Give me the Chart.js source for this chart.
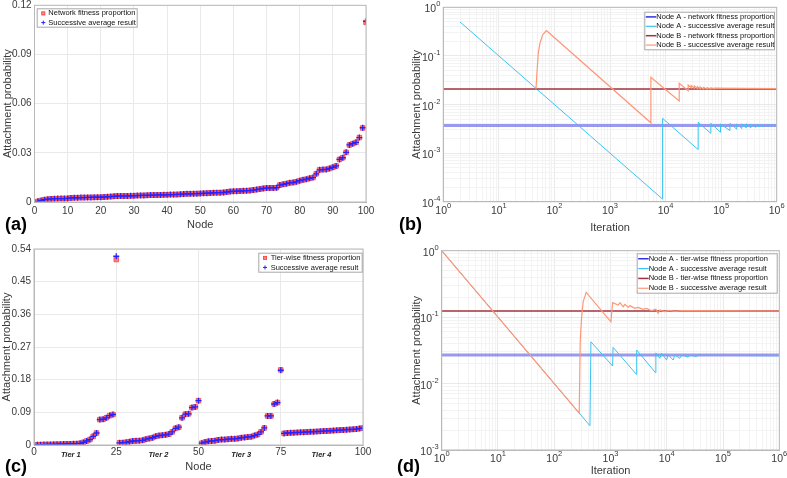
<!DOCTYPE html>
<html>
<head>
<meta charset="utf-8">
<script src="https://cdn.jsdelivr.net/npm/chart.js@4.4.1/dist/chart.umd.min.js"></script>
<style>
  html, body { margin: 0; padding: 0; background: #fff; }
  #wrap { position: relative; width: 787px; height: 478px; overflow: hidden;
          font-family: "Liberation Sans", Arial, Helvetica, sans-serif; }
  .panel { position: absolute; }
  .tag { position: absolute; font-weight: bold; font-size: 18px; line-height: 18px; color: #000; }
</style>
</head>
<body>
<div id="wrap">
  <div class="panel" style="left:0;top:0"><canvas id="cA" width="390" height="240"></canvas></div>
  <div class="panel" style="left:390px;top:0"><canvas id="cB" width="397" height="240"></canvas></div>
  <div class="panel" style="left:0;top:240px"><canvas id="cC" width="390" height="238"></canvas></div>
  <div class="panel" style="left:390px;top:240px"><canvas id="cD" width="397" height="238"></canvas></div>
  <div class="tag" style="left:5px;top:215px">(a)</div>
  <div class="tag" style="left:399px;top:215px">(b)</div>
  <div class="tag" style="left:5px;top:457px">(c)</div>
  <div class="tag" style="left:397px;top:457px">(d)</div>
</div>
<script>
// ---- datos ----

// (a) probabilidad por nodo, ordenada
const NODES = Array.from({ length: 100 }, (_, i) => i + 1);
const fitA = [
  0.0004, 0.0009, 0.0014, 0.0017, 0.0019, 0.0020, 0.0020, 0.0021, 0.0021, 0.0022,
  0.0025, 0.0026, 0.0026, 0.0027, 0.0027, 0.0028, 0.0028, 0.0028, 0.0029, 0.0029,
  0.0031, 0.0032, 0.0033, 0.0035, 0.0036, 0.0036, 0.0036, 0.0037, 0.0037, 0.0038,
  0.0039, 0.0040, 0.0040, 0.0041, 0.0042, 0.0042, 0.0043, 0.0043, 0.0044, 0.0044,
  0.0045, 0.0045, 0.0046, 0.0047, 0.0049, 0.0050, 0.0050, 0.0051, 0.0051, 0.0052,
  0.0053, 0.0054, 0.0055, 0.0056, 0.0057, 0.0057, 0.0058, 0.0061, 0.0064, 0.0065,
  0.0066, 0.0067, 0.0068, 0.0069, 0.0070, 0.0073, 0.0076, 0.0079, 0.0083, 0.0085,
  0.0086, 0.0086, 0.0087, 0.0103, 0.0108, 0.0112, 0.0117, 0.0119, 0.0123, 0.0130,
  0.0135, 0.0139, 0.0145, 0.0149, 0.0172, 0.0196, 0.0198, 0.0199, 0.0205, 0.0212,
  0.0220, 0.0260, 0.0270, 0.0303, 0.0348, 0.0356, 0.0364, 0.0393, 0.0452, 0.1096
];
const avgA = [
  0.0004, 0.0009, 0.0014, 0.0017, 0.0019, 0.0020, 0.0021, 0.0021, 0.0021, 0.0022,
  0.0025, 0.0026, 0.0026, 0.0027, 0.0027, 0.0028, 0.0028, 0.0029, 0.0029, 0.0029,
  0.0031, 0.0032, 0.0033, 0.0035, 0.0036, 0.0036, 0.0036, 0.0037, 0.0038, 0.0038,
  0.0039, 0.0040, 0.0040, 0.0041, 0.0042, 0.0042, 0.0043, 0.0043, 0.0044, 0.0044,
  0.0045, 0.0045, 0.0046, 0.0047, 0.0049, 0.0050, 0.0050, 0.0051, 0.0051, 0.0052,
  0.0053, 0.0054, 0.0055, 0.0056, 0.0057, 0.0057, 0.0058, 0.0061, 0.0064, 0.0065,
  0.0066, 0.0067, 0.0068, 0.0069, 0.0070, 0.0073, 0.0076, 0.0079, 0.0083, 0.0085,
  0.0086, 0.0086, 0.0087, 0.0103, 0.0108, 0.0112, 0.0117, 0.0119, 0.0123, 0.0130,
  0.0135, 0.0139, 0.0145, 0.0149, 0.0172, 0.0196, 0.0198, 0.0199, 0.0205, 0.0212,
  0.0220, 0.0260, 0.0270, 0.0303, 0.0348, 0.0356, 0.0364, 0.0393, 0.0453, 0.1102
];
const X_TICKS_A = [0, 10, 20, 30, 40, 50, 60, 70, 80, 90, 100];
const Y_TICKS_A = [0, 0.03, 0.06, 0.09, 0.12];

// (c) probabilidad por niveles (4 tiers de 25 nodos)
const fitC = [
  0.0008, 0.0010, 0.0012, 0.0014, 0.0016, 0.0018, 0.0020, 0.0022, 0.0025, 0.0028,
  0.0030, 0.0033, 0.0037, 0.0045, 0.0072, 0.0110, 0.0150, 0.0240, 0.0330, 0.0700,
  0.0710, 0.0750, 0.0810, 0.0840, 0.5110,
  0.0060, 0.0065, 0.0075, 0.0090, 0.0110, 0.0115, 0.0120, 0.0130, 0.0160, 0.0180,
  0.0200, 0.0240, 0.0260, 0.0270, 0.0280, 0.0300, 0.0360, 0.0460, 0.0490, 0.0750,
  0.0850, 0.0860, 0.1030, 0.1050, 0.1220,
  0.0050, 0.0080, 0.0100, 0.0110, 0.0120, 0.0140, 0.0150, 0.0150, 0.0160, 0.0170,
  0.0170, 0.0180, 0.0200, 0.0210, 0.0220, 0.0230, 0.0260, 0.0290, 0.0360, 0.0470,
  0.0800, 0.0800, 0.1130, 0.1170, 0.2070,
  0.0320, 0.0330, 0.0335, 0.0340, 0.0345, 0.0350, 0.0352, 0.0358, 0.0363, 0.0368,
  0.0372, 0.0378, 0.0383, 0.0388, 0.0393, 0.0399, 0.0404, 0.0410, 0.0416, 0.0421,
  0.0427, 0.0433, 0.0440, 0.0458, 0.0466
];
const avgC = [
  0.0008, 0.0010, 0.0012, 0.0014, 0.0016, 0.0018, 0.0020, 0.0022, 0.0025, 0.0028,
  0.0030, 0.0033, 0.0037, 0.0045, 0.0072, 0.0110, 0.0150, 0.0240, 0.0330, 0.0700,
  0.0710, 0.0750, 0.0810, 0.0840, 0.5200,
  0.0060, 0.0065, 0.0075, 0.0090, 0.0110, 0.0115, 0.0120, 0.0130, 0.0160, 0.0180,
  0.0200, 0.0240, 0.0260, 0.0270, 0.0280, 0.0300, 0.0360, 0.0460, 0.0490, 0.0750,
  0.0850, 0.0860, 0.1030, 0.1050, 0.1220,
  0.0050, 0.0080, 0.0100, 0.0110, 0.0120, 0.0140, 0.0150, 0.0150, 0.0160, 0.0170,
  0.0170, 0.0180, 0.0200, 0.0210, 0.0220, 0.0230, 0.0260, 0.0290, 0.0360, 0.0470,
  0.0800, 0.0800, 0.1130, 0.1170, 0.2060,
  0.0320, 0.0330, 0.0335, 0.0340, 0.0345, 0.0350, 0.0352, 0.0358, 0.0363, 0.0368,
  0.0372, 0.0378, 0.0383, 0.0388, 0.0393, 0.0399, 0.0404, 0.0410, 0.0416, 0.0421,
  0.0427, 0.0433, 0.0440, 0.0458, 0.0466
];
const X_TICKS_C = [0, 25, 50, 75, 100];
const Y_TICKS_C = [0, 0.09, 0.18, 0.27, 0.36, 0.45, 0.54];
const TIER_NAMES = ['Tier 1', 'Tier 2', 'Tier 3', 'Tier 4'];
const TIER_POS = [11.2, 37.8, 63, 87.4];

// (b) evolucion con la iteracion (proporcion de red)
const fitLevelAb = 0.0037;
const fitLevelBb = 0.0208;
const iterAb = [2, 8830, 8830, 38600, 38600, 65300, 65300, 97500, 97500, 144000, 144000,
  191000, 191000, 236000, 236000, 284000, 284000, 342000, 342000, 420000, 420000,
  480000, 480000, 550000, 550000, 630000, 630000, 720000, 720000, 820000, 820000, 1000000];
const probAb = [0.5, 0.000113, 0.0052, 0.00118, 0.0043, 0.00255, 0.0041, 0.00268, 0.0040, 0.0029, 0.0041,
  0.0031, 0.0040, 0.0032, 0.0040, 0.0033, 0.0040, 0.0033, 0.0039, 0.0034, 0.0038,
  0.0035, 0.0038, 0.0035, 0.0038, 0.0036, 0.0038, 0.0036, 0.0038, 0.0036, 0.0038, 0.0037];
const iterBb = [46.5, 48.4, 51.1, 54.8, 61.3, 70.3, 72.4, 5440, 5440, 17600, 17600, 25500, 25500,
  29000, 29000, 33000, 33000, 37500, 37500, 42000, 42000, 48000, 48000, 56000, 56000,
  65000, 65000, 75000, 75000, 1000000];
const probBb = [0.0205, 0.044, 0.113, 0.18, 0.27, 0.325, 0.33, 0.0042, 0.0363, 0.0118, 0.0273, 0.0192, 0.0252,
  0.0222, 0.0245, 0.0216, 0.0240, 0.0213, 0.0232, 0.0210, 0.0228, 0.0208, 0.0224, 0.0208, 0.0222,
  0.0208, 0.0220, 0.0209, 0.0218, 0.0212];

// (d) evolucion con la iteracion (proporcion por niveles)
const fitLevelAd = 0.0269;
const fitLevelBd = 0.1236;
const iterAd = [1, 431, 449, 1090, 1110, 2900, 2920, 6300, 6400, 7530, 8090, 9920, 10600,
  13000, 13900, 17100, 18300, 24000, 25700, 33800, 36000, 1000000];
const probAd = [1, 0.00232, 0.0426, 0.0184, 0.0351, 0.0137, 0.032, 0.0146, 0.029, 0.024, 0.0286, 0.0226, 0.027,
  0.0226, 0.027, 0.024, 0.027, 0.025, 0.0268, 0.0255, 0.0266, 0.0262];
const iterBd = [1, 278, 290, 307, 327, 370, 1017, 1090, 1370, 1470, 1680, 1800, 2070, 2210, 2710,
  3110, 3810, 4370, 5370, 6400, 7030, 7530, 9000, 11000, 14000, 18000, 1000000];
const probBd = [1, 0.0036, 0.045, 0.101, 0.171, 0.236, 0.085, 0.165, 0.152, 0.165, 0.1435, 0.156, 0.14, 0.149, 0.1356,
  0.14, 0.131, 0.1356, 0.125, 0.131, 0.114, 0.128, 0.121, 0.126, 0.122, 0.125, 0.1236];

// ---- estilo ----
const FONT = '"Liberation Sans", Arial, Helvetica, sans-serif';
const GRID = '#e9e9e9';
const GRID_MINOR = '#f3f3f3';
const AXIS = '#b9b9b9';
const TXT = '#3a3a3a';
const RED = '#ff3c3c';
const RED_FILL = 'rgba(255,90,90,0.75)';
const BLUE = '#2323ff';
const C_FIT_A = 'rgba(90,90,228,0.62)';
const C_AVG_A = '#3cc3f2';
const C_FIT_B = '#a3303c';
const C_AVG_B = '#ff9777';

Chart.defaults.font.family = FONT;

function isDecade(v) { const e = Math.log10(v); return Math.abs(e - Math.round(e)) < 1e-9; }
function decTicks(e0, e1) {
  const out = [];
  for (let e = e0; e < e1; e++) for (let m = 1; m < 10; m++) out.push(Number((m * Math.pow(10, e)).toPrecision(3)));
  out.push(Math.pow(10, e1));
  return out;
}
const pts = (xs, ys) => xs.map((x, i) => ({ x, y: ys[i] }));
const flat = (lvl) => [{ x: 1, y: lvl }, { x: 1e6, y: lvl }];

function axis(o) {
  return {
    type: o.log ? 'logarithmic' : 'linear',
    position: o.pos,
    min: o.min, max: o.max,
    afterBuildTicks: s => { s.ticks = o.ticks.map(v => ({ value: v })); },
    afterFit: s => {
      if (o.pos === 'left') s.width = o.size; else s.height = o.size;
      s.paddingLeft = s.paddingRight = s.paddingTop = s.paddingBottom = 0;
    },
    grid: {
      drawTicks: false, lineWidth: 1,
      color: o.log ? (c => (c.tick && isDecade(c.tick.value) ? GRID : GRID_MINOR)) : GRID
    },
    border: { color: AXIS },
    // en log las etiquetas 10^n se pintan aparte con exponente elevado
    ticks: { display: !o.log, autoSkip: false, maxRotation: 0, padding: o.tickPad || 3, color: TXT,
             font: { size: 10, lineHeight: 1 }, callback: o.fmt },
    title: { display: true, text: o.title, color: TXT, font: { size: 11 }, padding: o.titlePad }
  };
}

function drawPowLabels(chart, ctx) {
  ['x', 'y'].forEach(k => {
    const s = chart.scales[k];
    if (s.type !== 'logarithmic') return;
    s.ticks.forEach(t => {
      if (!isDecade(t.value)) return;
      const e = String(Math.round(Math.log10(t.value)));
      const p = s.getPixelForValue(t.value);
      ctx.font = '10.5px ' + FONT; const wb = ctx.measureText('10').width;
      ctx.font = '7.5px ' + FONT; const we = ctx.measureText(e).width;
      let x0, yb;
      if (k === 'x') { x0 = p - (wb + we) / 2; yb = s.top + 12; }
      else { x0 = s.right - 3 - wb - we; yb = p + 5; }
      ctx.fillStyle = TXT; ctx.textAlign = 'left'; ctx.textBaseline = 'alphabetic';
      ctx.font = '10.5px ' + FONT; ctx.fillText('10', x0, yb);
      ctx.font = '7.5px ' + FONT; ctx.fillText(e, x0 + wb, yb - 6);
    });
  });
}

// marco + leyenda dentro del area + etiquetas extra
function decor(cfg) {
  return {
    id: 'decor',
    afterDraw(chart) {
      const { ctx, chartArea: a } = chart;
      ctx.save();
      ctx.strokeStyle = AXIS; ctx.lineWidth = 1;
      ctx.strokeRect(a.left, a.top, a.right - a.left, a.bottom - a.top);

      drawPowLabels(chart, ctx);

      if (cfg.tiers) {
        ctx.font = 'italic bold 7.5px ' + FONT;
        ctx.fillStyle = '#222'; ctx.textAlign = 'center'; ctx.textBaseline = 'middle';
        TIER_NAMES.forEach((t, i) => ctx.fillText(t, chart.scales.x.getPixelForValue(TIER_POS[i]), cfg.tiers));
      }

      const L = cfg.legend;
      const h = L.items.length * L.row;
      ctx.fillStyle = '#fff';
      ctx.fillRect(L.x, L.y, L.w, h);
      ctx.strokeStyle = '#a8a8a8'; ctx.lineWidth = 1;
      ctx.strokeRect(L.x + 0.5, L.y + 0.5, L.w, h);
      ctx.font = '7.5px ' + FONT; ctx.textAlign = 'left'; ctx.textBaseline = 'middle';
      L.items.forEach((it, i) => {
        const cy = L.y + L.row * (i + 0.5) + 0.5;
        if (it.kind === 'line') {
          ctx.strokeStyle = it.color; ctx.lineWidth = it.width;
          ctx.beginPath(); ctx.moveTo(L.x + 1.5, cy); ctx.lineTo(L.x + L.textX, cy); ctx.stroke();
        } else if (it.kind === 'rect') {
          ctx.fillStyle = RED_FILL; ctx.strokeStyle = RED; ctx.lineWidth = 0.8;
          ctx.fillRect(L.x + L.markX - 1.6, cy - 1.6, 3.2, 3.2);
          ctx.strokeRect(L.x + L.markX - 1.6, cy - 1.6, 3.2, 3.2);
        } else {
          ctx.strokeStyle = BLUE; ctx.lineWidth = 1;
          ctx.beginPath();
          ctx.moveTo(L.x + L.markX - 2, cy); ctx.lineTo(L.x + L.markX + 2, cy);
          ctx.moveTo(L.x + L.markX, cy - 2); ctx.lineTo(L.x + L.markX, cy + 2);
          ctx.stroke();
        }
        ctx.fillStyle = '#111';
        ctx.fillText(it.text, L.x + L.textX, cy);
      });
      ctx.restore();
    }
  };
}

// order: el mayor se pinta primero (debajo)
function scatterSets(fit, avg, fitLabel) {
  return [
    { label: fitLabel, order: 2, data: pts(NODES, fit), pointStyle: 'rect', pointRadius: 3.2,
      backgroundColor: RED_FILL, borderColor: RED, borderWidth: 0.8 },
    { label: 'Successive average result', order: 1, data: pts(NODES, avg), pointStyle: 'cross', pointRadius: 3,
      borderColor: BLUE, borderWidth: 1.3 }
  ];
}

function lineSets(lvlA, xsA, ysA, lvlB, xsB, ysB, kind) {
  const common = { showLine: true, pointRadius: 0, tension: 0, fill: false };
  return [
    { ...common, order: 4, label: 'Node A - ' + kind, data: flat(lvlA), borderColor: C_FIT_A, borderWidth: 3 },
    { ...common, order: 3, label: 'Node A - successive average result', data: pts(xsA, ysA), borderColor: C_AVG_A, borderWidth: 1 },
    { ...common, order: 2, label: 'Node B - ' + kind, data: flat(lvlB), borderColor: C_FIT_B, borderWidth: 1.5 },
    { ...common, order: 1, label: 'Node B - successive average result', data: pts(xsB, ysB), borderColor: C_AVG_B, borderWidth: 1.2 }
  ];
}

function lineLegend(kind, x, y, w, row) {
  return { x, y, w, row, textX: 12, items: [
    { kind: 'line', color: '#3030e0', width: 1.5, text: 'Node A - ' + kind },
    { kind: 'line', color: C_AVG_A, width: 1.2, text: 'Node A - successive average result' },
    { kind: 'line', color: C_FIT_B, width: 1.5, text: 'Node B - ' + kind },
    { kind: 'line', color: C_AVG_B, width: 1.2, text: 'Node B - successive average result' }
  ] };
}

function make(id, datasets, pad, x, y, deco) {
  return new Chart(document.getElementById(id), {
    type: 'scatter',
    data: { datasets },
    options: {
      responsive: false, animation: false, events: [],
      layout: { padding: pad },
      plugins: { legend: { display: false }, tooltip: { enabled: false } },
      scales: { x, y }
    },
    plugins: [decor(deco)]
  });
}

const fmt2 = v => (v === 0 ? '0' : v.toFixed(2));

// (a)
make('cA', scatterSets(fitA, avgA, 'Network fitness proportion'),
  { left: 0, right: 24, top: 5, bottom: 0 },
  axis({ pos: 'bottom', min: 0, max: 100, ticks: X_TICKS_A, size: 38, tickPad: 4, title: 'Node',
         titlePad: { top: 0, bottom: 8.4 }, fmt: v => String(v) }),
  axis({ pos: 'left', min: 0, max: 0.12, ticks: Y_TICKS_A, size: 34.5, tickPad: 3, title: 'Attachment probability',
         titlePad: { top: 1, bottom: 0 }, fmt: fmt2 }),
  { legend: { x: 36.7, y: 8.3, w: 100, row: 9.2, markX: 6.6, textX: 11.6, items: [
      { kind: 'rect', text: 'Network fitness proportion' },
      { kind: 'cross', text: 'Successive average result' }] } });

// (b)
make('cB', lineSets(fitLevelAb, iterAb, probAb, fitLevelBb, iterBb, probBb, 'network fitness proportion'),
  { left: 0, right: 10.3, top: 7.3, bottom: 0 },
  axis({ pos: 'bottom', log: true, min: 1, max: 1e6, ticks: decTicks(0, 6), size: 38.3, title: 'Iteration',
         titlePad: { top: 0, bottom: 5.4 } }),
  axis({ pos: 'left', log: true, min: 1e-4, max: 1, ticks: decTicks(-4, 0), size: 53.3, title: 'Attachment probability',
         titlePad: { top: 20.4, bottom: 0 } }),
  { legend: lineLegend('network fitness proportion', 254.3, 11.7, 129.7, 9.4) });

// (c)
make('cC', scatterSets(fitC, avgC, 'Tier-wise fitness proportion'),
  { left: 0, right: 27, top: 9, bottom: 0 },
  axis({ pos: 'bottom', min: 0, max: 100, ticks: X_TICKS_C, size: 33, tickPad: 2, title: 'Node',
         titlePad: { top: 0, bottom: 4.4 }, fmt: v => String(v) }),
  axis({ pos: 'left', min: 0, max: 0.54, ticks: Y_TICKS_C, size: 34, tickPad: 3, title: 'Attachment probability',
         titlePad: { top: 0, bottom: 0 }, fmt: fmt2 }),
  { tiers: 215, legend: { x: 258.3, y: 12.7, w: 103.4, row: 9.5, markX: 6.7, textX: 12.4, items: [
      { kind: 'rect', text: 'Tier-wise fitness proportion' },
      { kind: 'cross', text: 'Successive average result' }] } });

// (d)
make('cD', lineSets(fitLevelAd, iterAd, probAd, fitLevelBd, iterBd, probBd, 'tier-wise fitness proportion'),
  { left: 0, right: 7.7, top: 10.7, bottom: 0 },
  axis({ pos: 'bottom', log: true, min: 1, max: 1e6, ticks: decTicks(0, 6), size: 28, title: 'Iteration',
         titlePad: { top: 0, bottom: 0 } }),
  axis({ pos: 'left', log: true, min: 1e-3, max: 1, ticks: decTicks(-3, 0), size: 51.7, title: 'Attachment probability',
         titlePad: { top: 20, bottom: 0 } }),
  { legend: lineLegend('tier-wise fitness proportion', 246.7, 13.3, 140, 9.85) });
</script>
</body>
</html>
